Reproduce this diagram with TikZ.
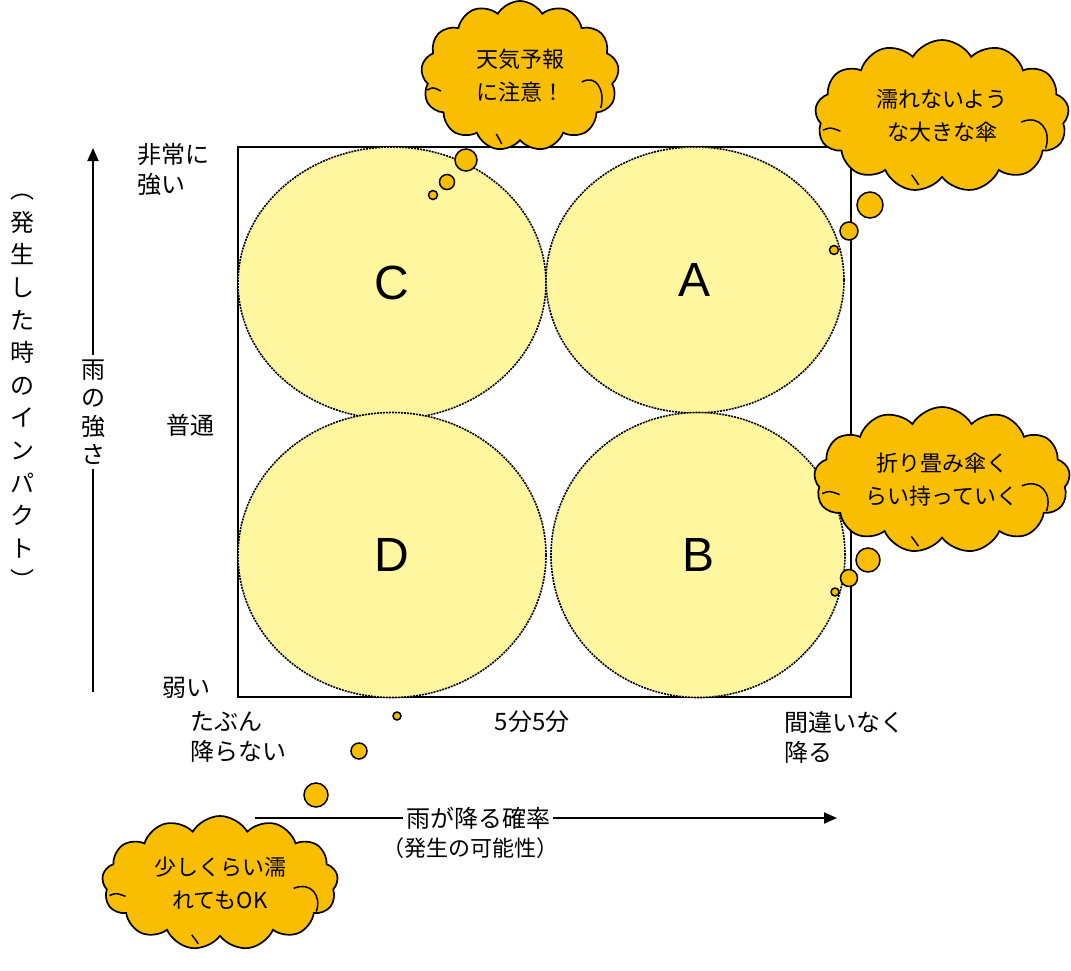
\documentclass[tikz,border=0pt]{standalone}
\usepackage{fontspec}
\setmainfont{Noto Sans CJK JP}
\newfontfamily\latinfont{Liberation Sans}
\usetikzlibrary{shapes.symbols,shapes.geometric,arrows.meta}
\definecolor{cloudor}{RGB}{250,190,0}
\definecolor{quady}{RGB}{255,246,160}
\newcommand{\cloudfolds}[3]{%
  \begin{scope}[shift={(#1.center)}, xscale=#2/250, yscale=#3/150, line width=1.5pt]
    \draw (-117,14) .. controls (-110,11) .. (-100,15);
    \draw (78,6) .. controls (96,-2) and (108,14) .. (102,32);
    \draw (-30,58) .. controls (-27,62) .. (-23,68);
  \end{scope}}
\begin{document}
\begin{tikzpicture}[x=1pt,y=-1pt,
  quad/.style={ellipse, fill=quady, draw=black, line width=1.6pt, dash pattern=on 2pt off 1pt, inner sep=0, font=\latinfont\fontsize{48}{48}\selectfont},
  bubble/.style={circle, fill=cloudor, draw=black, line width=1.5pt, inner sep=0},
  cloudbox/.style={cloud, cloud puffs=13, cloud puff arc=120, cloud ignores aspect, fill=cloudor, draw=black, line width=1.7pt, align=center, font=\fontsize{22}{33}\selectfont, inner sep=0},
  lbl/.style={font=\fontsize{24}{30}\selectfont, inner sep=0},
  axisline/.style={line width=2pt},
  axisarrow/.style={line width=2pt, -{Triangle[length=13pt,width=11pt]}}
]
\useasboundingbox (0,0) rectangle (1071,970);
\fill[white] (0,0) rectangle (1071,970);

% frame
\node[draw, line width=1.5pt, minimum width=613, minimum height=550, inner sep=0] (frame) at (544.5,422) {};

% quadrant circles
\node[quad, minimum width=308, minimum height=272] (C) at (392,283) {C};
\node[quad, minimum width=298, minimum height=266] (A) at (695,280) {A};
\node[quad, minimum width=308, minimum height=285] (D) at (392,555) {D};
\node[quad, minimum width=294, minimum height=285] (B) at (698,555) {B};

% axis labels
\node[lbl, anchor=north west, align=left] (vhigh) at (137,143) {非常に\\強い};
\node[lbl] (vmid) at (190,425) {普通};
\node[lbl] (vlow) at (186,688) {弱い};
\node[lbl, anchor=north west, align=left] (hlow) at (190,711) {たぶん\\降らない};
\node[lbl] (hmid) at (532,722) {5分5分};
\node[lbl, anchor=north west, align=left] (hhigh) at (784,711) {間違いなく\\降る};

% vertical axis
\coordinate (vb) at (93,692);
\coordinate (vt) at (93,148);
\node[align=center, font=\fontsize{24}{28.5}\selectfont, inner sep=4pt] (vlab) at (93,412) {雨\\の\\強\\さ};
\draw[axisline] (vb) -- (vlab.south);
\draw[axisarrow] (vlab.north) -- (vt);
\node[align=center, font=\fontsize{24}{32.6}\selectfont, inner sep=0] (vout) at (22,392) {︵\\発\\生\\し\\た\\時\\の\\イ\\ン\\パ\\ク\\ト\\︶};

% horizontal axis
\coordinate (hl) at (255,818);
\coordinate (hr) at (837,818);
\node[font=\fontsize{24}{28}\selectfont, inner sep=3pt] (hlab) at (478,818) {雨が降る確率};
\draw[axisline] (hl) -- (hlab.west);
\draw[axisarrow] (hlab.east) -- (hr);
\node[font=\fontsize{22}{28}\selectfont, inner sep=0] (hsub) at (470,848) {（発生の可能性）};

% thought bubbles
\node[bubble, minimum size=22] (c1a) at (466,160) {};
\node[bubble, minimum size=15] (c1b) at (447,182) {};
\node[bubble, minimum size=9] (c1c) at (433,195) {};
\node[bubble, minimum size=26] (c2a) at (870,205) {};
\node[bubble, minimum size=18] (c2b) at (849,231) {};
\node[bubble, minimum size=9] (c2c) at (834,250) {};
\node[bubble, minimum size=24] (c3a) at (868,560) {};
\node[bubble, minimum size=17] (c3b) at (849,578) {};
\node[bubble, minimum size=8] (c3c) at (835,592) {};
\node[bubble, minimum size=24] (c4a) at (316,795) {};
\node[bubble, minimum size=16] (c4b) at (359,751) {};
\node[bubble, minimum size=8] (c4c) at (397,716) {};

% clouds
\node[cloudbox, minimum width=198, minimum height=150] (cl1) at (520,76) {天気予報\\に注意！};
\cloudfolds{cl1}{198}{150}
\node[cloudbox, minimum width=254, minimum height=152] (cl2) at (942,116) {濡れないよう\\な大きな傘};
\cloudfolds{cl2}{254}{152}
\node[cloudbox, minimum width=256, minimum height=146] (cl3) at (942,480) {折り畳み傘く\\らい持っていく};
\cloudfolds{cl3}{256}{146}
\node[cloudbox, minimum width=236, minimum height=134] (cl4) at (220,883) {少しくらい濡\\れてもOK};
\cloudfolds{cl4}{236}{134}
\end{tikzpicture}
\end{document}
